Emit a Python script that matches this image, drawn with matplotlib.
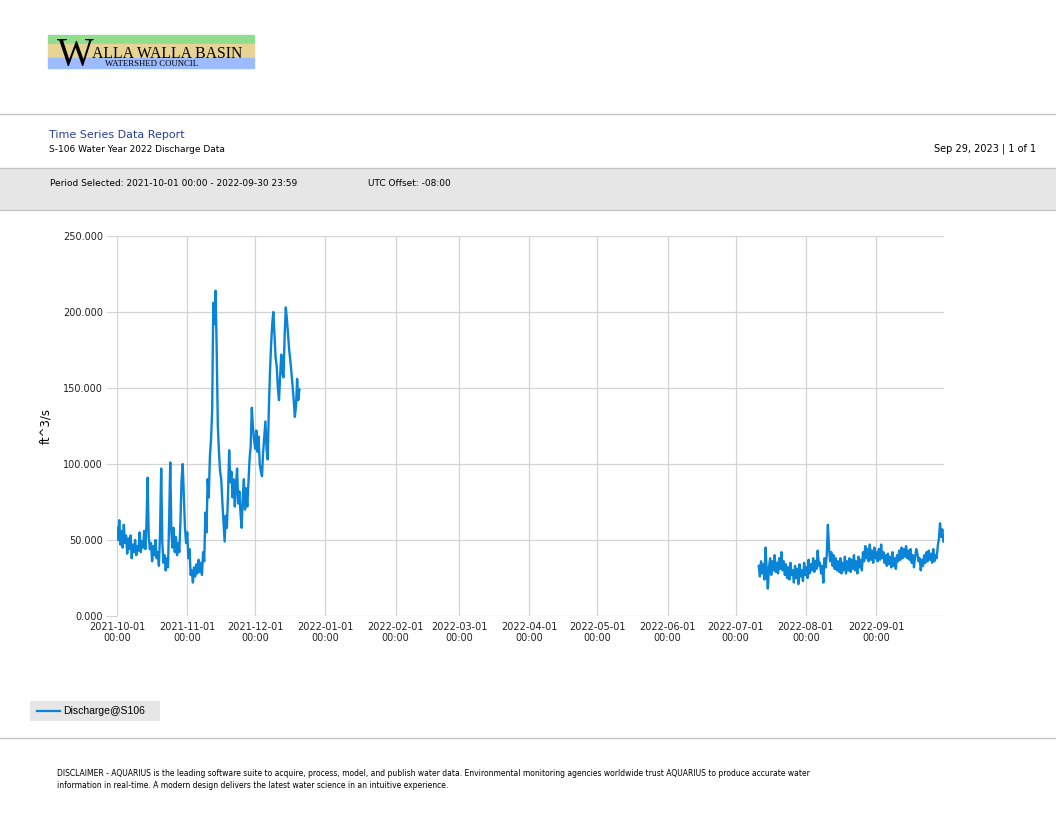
import matplotlib
matplotlib.use("Agg")
import matplotlib.pyplot as plt
import pandas as pd
from matplotlib.patches import Rectangle
from matplotlib.lines import Line2D

# discharge, ft^3/s, every 12 hours
fall_start = "2021-10-01 00:00"
fall_q = [
    58, 50, 63, 47, 56, 45, 60, 48, 53, 41,
    51, 44, 53, 38, 47, 42, 50, 40, 46, 43,
    55, 42, 49, 45, 56, 44, 60, 91, 52, 44,
    48, 36, 46, 40, 50, 38, 42, 33, 55, 97,
    48, 35, 40, 30, 38, 32, 62, 101, 55, 45,
    58, 42, 52, 40, 48, 42, 62, 90, 100, 78,
    58, 48, 55, 38, 44, 27, 30, 22, 32, 26,
    34, 28, 37, 29, 35, 27, 42, 36, 68, 55,
    90, 78, 105, 116, 135, 206, 192, 214, 175, 125,
    108, 95, 90, 75, 62, 49, 66, 58, 80, 109,
    88, 95, 78, 90, 72, 86, 97, 74, 82, 68,
    58, 78, 90, 70, 84, 72, 88, 103, 112, 137,
    124, 116, 110, 122, 108, 118, 100, 95, 92, 108,
    118, 128, 110, 103, 135, 160, 178, 192, 200, 185,
    170, 164, 150, 142, 158, 172, 160, 157, 185, 203,
    195, 185, 175, 168, 160, 151, 142, 131, 138, 156,
    142, 149,
]
summer_start = "2022-07-11 06:00"
summer_q = [
    33, 26, 36, 28, 34, 24, 45, 30, 18, 32,
    38, 27, 36, 30, 40, 29, 35, 28, 38, 31,
    42, 30, 36, 27, 34, 25, 32, 24, 35, 27,
    30, 22, 33, 25, 31, 21, 34, 26, 30, 23,
    35, 27, 32, 25, 37, 28, 34, 30, 38, 29,
    36, 31, 43, 33, 35, 28, 33, 22, 38, 32,
    40, 60, 45, 36, 42, 33, 40, 31, 38, 30,
    36, 29, 38, 28, 35, 30, 39, 28, 36, 30,
    38, 29, 37, 31, 40, 30, 36, 28, 39, 32,
    37, 30, 42, 36, 46, 38, 44, 36, 47, 37,
    43, 35, 45, 38, 42, 36, 44, 37, 47, 38,
    42, 35, 40, 33, 41, 34, 39, 32, 42, 33,
    38, 31, 40, 36, 43, 37, 45, 38, 44, 39,
    46, 38, 43, 37, 44, 35, 40, 32, 39, 44,
    41, 36, 38, 30, 37, 33, 40, 35, 42, 36,
    43, 37, 41, 35, 44, 36, 40, 38, 46, 51,
    61, 52, 57, 49,
]
month_ticks = pd.date_range("2021-10-01", "2022-09-01", freq="MS")
y_ticks = [0, 50, 100, 150, 200, 250]

W, H = 1056, 816
blue = "#0a84d6"
grey_band = "#e6e6e6"
rule = "#c4c4c4"


def fx(x):
    return x / W


def fy(y):
    return 1 - y / H


fig = plt.figure(figsize=(W / 100, H / 100), dpi=100)
fig.patch.set_facecolor("white")

# logo
for y0, y1, c in [(35, 44, "#92dc8e"), (44, 58, "#e7d394"), (58, 68, "#9cbcff")]:
    fig.patches.append(Rectangle((fx(48), fy(y1)), fx(254) - fx(48), fy(y0) - fy(y1),
                                 transform=fig.transFigure, color=c, zorder=0))
fig.text(fx(57), fy(65), "W", family="Liberation Serif", fontsize=28, color="black", va="baseline")
fig.text(fx(92), fy(57.5), "ALLA WALLA BASIN", family="Liberation Serif", fontsize=11.3, va="baseline")
fig.text(fx(105), fy(66), "WATERSHED COUNCIL", family="Liberation Serif", fontsize=6.3, va="baseline")

# header rules and band
fig.add_artist(Line2D([0, 1], [fy(114), fy(114)], color=rule, lw=1))
fig.patches.append(Rectangle((0, fy(210)), 1, fy(168) - fy(210), transform=fig.transFigure,
                             facecolor=grey_band, edgecolor="none", zorder=0))
fig.add_artist(Line2D([0, 1], [fy(168), fy(168)], color=rule, lw=1))
fig.add_artist(Line2D([0, 1], [fy(210), fy(210)], color=rule, lw=1))
fig.add_artist(Line2D([0, 1], [fy(738), fy(738)], color=rule, lw=1))

hdr = dict(family="DejaVu Sans", va="center")
fig.text(fx(49), fy(135), "Time Series Data Report", color="#2a3f9a", fontsize=8, **hdr)
fig.text(fx(49), fy(149), "S-106 Water Year 2022 Discharge Data", color="black", fontsize=6.5, **hdr)
fig.text(fx(1036), fy(149), "Sep 29, 2023 | 1 of 1", color="black", fontsize=7, ha="right", **hdr)
fig.text(fx(50), fy(183), "Period Selected: 2021-10-01 00:00 - 2022-09-30 23:59", fontsize=6.5, **hdr)
fig.text(fx(368), fy(183), "UTC Offset: -08:00", fontsize=6.5, **hdr)

# chart
ax = fig.add_axes([fx(117), fy(616), fx(944) - fx(117), fy(236) - fy(616)])
t1 = pd.date_range(fall_start, periods=len(fall_q), freq="12h")
t2 = pd.date_range(summer_start, periods=len(summer_q), freq="12h")
ax.plot(t1, fall_q, color=blue, lw=1.7)
ax.plot(t2, summer_q, color=blue, lw=1.7)

ax.set_xlim(pd.Timestamp("2021-10-01"), pd.Timestamp("2022-09-30 23:59"))
ax.set_ylim(0, 250)
ax.set_xticks(month_ticks)
ax.set_xticklabels([d.strftime("%Y-%m-%d") + "\n00:00" for d in month_ticks])
ax.set_yticks(y_ticks)
ax.set_yticklabels([f"{v:.3f}" for v in y_ticks])
ax.grid(True, color="#d4d4d4", lw=0.9)
ax.set_axisbelow(True)
for s in ax.spines.values():
    s.set_visible(False)
ax.tick_params(axis="x", length=0, pad=4, labelsize=7)
ax.tick_params(axis="y", length=8, color="#d4d4d4", pad=2, labelsize=7)
for lab in ax.get_xticklabels() + ax.get_yticklabels():
    lab.set_family("DejaVu Sans")
    lab.set_color("#222222")
fig.text(fx(46), fy(426), "ft^3/s", rotation=90, fontsize=8.5, family="DejaVu Sans",
         ha="center", va="center")

# legend box
fig.patches.append(Rectangle((fx(30), fy(721)), fx(160) - fx(30), fy(701) - fy(721),
                             transform=fig.transFigure, facecolor=grey_band, edgecolor="none"))
fig.add_artist(Line2D([fx(37), fx(60)], [fy(711), fy(711)], color=blue, lw=1.6))
fig.text(fx(63), fy(711), "Discharge@S106", family="Liberation Sans", fontsize=7.5, va="center")

# disclaimer
fig.text(fx(57), fy(774), "DISCLAIMER - AQUARIUS is the leading software suite to acquire, process, model, and publish water data. "
         "Environmental monitoring agencies worldwide trust AQUARIUS to produce accurate water",
         fontsize=5.5, family="DejaVu Sans", va="center")
fig.text(fx(57), fy(785), "information in real-time. A modern design delivers the latest water science in an intuitive experience.",
         fontsize=5.5, family="DejaVu Sans", va="center")

fig.savefig("out.png", dpi=100)
